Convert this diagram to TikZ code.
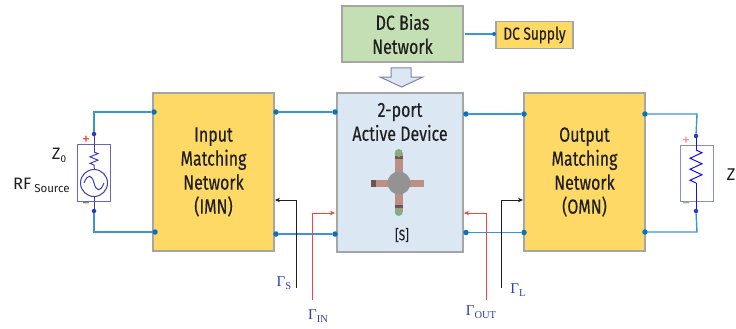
\documentclass[tikz,border=0pt]{standalone}
\usepackage{fontspec}
\setmainfont{Fira Sans}
\newfontfamily\cond[FakeStretch=0.78,FakeBold=0.25]{Fira Sans}
\newfontfamily\gfont{Liberation Serif}
\newcommand{\gam}[1]{{\gfont Γ\raisebox{-3pt}{\fontsize{10.5}{10.5}\selectfont #1}}}
\usetikzlibrary{arrows.meta,decorations.pathmorphing}
\definecolor{wire}{HTML}{3C94D6}
\definecolor{dotc}{HTML}{0B70BE}
\definecolor{ink}{HTML}{1F1F1F}
\definecolor{edge}{HTML}{A5A5A5}
\definecolor{gold}{HTML}{FFD966}
\definecolor{bluebox}{HTML}{DCE7F4}
\definecolor{greenbox}{HTML}{C5DFB4}
\definecolor{comp}{HTML}{3F3FB5}
\definecolor{gamc}{HTML}{2A3FC4}
\definecolor{arm}{HTML}{BC8F85}
\tikzset{
 block/.style={draw=edge,line width=1.3pt,minimum width=#1,inner sep=0pt,font=\cond\fontsize{20.5}{24}\selectfont,text=ink,align=center},
 dotn/.style={circle,fill=dotc,inner sep=0pt,minimum size=5.5pt},
 term/.style={circle,fill=blue!70!black!80,inner sep=0pt,minimum size=4.5pt},
 wirel/.style={draw=wire,line width=1.4pt},
 refl/.style={line width=.8pt,-{Stealth[length=5pt,width=4.5pt]}},
 gamlab/.style={text=gamc,inner sep=0pt,font=\fontsize{15}{15}\selectfont},
 ttxt/.style={text=ink,inner sep=0pt},
 compbox/.style={draw=comp!80,line width=1pt},
 zig/.style={draw=comp,line width=1pt,decorate,decoration={zigzag,segment length=6.5pt,amplitude=4pt}},
 signl/.style={inner sep=0pt,font=\fontsize{16}{16}\selectfont}
}
\begin{document}
\begin{tikzpicture}[x=1pt,y=-1pt]
\useasboundingbox[fill=white] (0,0) rectangle (736,329);
% blocks
\node[block=121pt,fill=greenbox,minimum height=56pt] (bias) at (402.5,34) {DC Bias\\Network};
\node[block=77pt,fill=gold,minimum height=27pt,font=\cond\fontsize{17.5}{20}\selectfont] (supply) at (534.5,35) {DC Supply};
\node[block=121pt,fill=gold,minimum height=158pt] (imn) at (213.5,172) {Input\\Matching\\Network\\(IMN)};
\node[block=126pt,fill=bluebox,minimum height=159pt] (dev) at (400,172.5) {};
\node[block=121pt,fill=gold,minimum height=158pt] (omn) at (584.5,172) {Output\\Matching\\Network\\(OMN)};
\node[ttxt,font=\cond\fontsize{20.5}{24}\selectfont,align=center] (devt) at (400,122) {2-port\\Active Device};
\node[ttxt,font=\cond\fontsize{15}{16}\selectfont] (sm) at (402,235) {[S]};
% block arrow
\draw[draw=comp!35!edge,fill=bluebox,line width=1pt] (391,68) -- (411,68) -- (411,77) -- (423,77) -- (401.5,87) -- (380,77) -- (391,77) -- cycle;
% transistor
\fill[arm] (395,153) rectangle (402.5,212);
\fill[arm] (371,179.5) rectangle (424,186.5);
\fill[arm!60!black] (371,179.5) rectangle (376,186.5);
\fill[arm!60!black] (395,156) rectangle (402.5,159);
\fill[arm!60!black] (395,205) rectangle (402.5,208);
\fill[green!20!gray!80] (398.7,153) circle (4pt);
\fill[green!20!gray!80] (398.7,212) circle (4pt);
\fill[gray!85] (399,183) circle (11.5pt);
% dots
\node[dotn] (i1) at (154,112) {};
\node[dotn] (i2) at (155,232) {};
\node[dotn] (i3) at (276,112) {};
\node[dotn] (i4) at (276,234) {};
\node[dotn] (d1) at (335,112) {};
\node[dotn] (d2) at (335,234) {};
\node[dotn] (d3) at (466,114) {};
\node[dotn] (d4) at (466,232.5) {};
\node[dotn] (o1) at (524,114) {};
\node[dotn] (o2) at (524,232.5) {};
\node[dotn] (o3) at (645,114) {};
\node[dotn] (o4) at (645,232) {};
\node[dotn,minimum size=4pt] (s0) at (494,34) {};
\draw[wirel] (bias.east) ++(1,0) -- (s0);
\draw[wirel] (i3) -- (d1);
\draw[wirel] (i4) -- (d2);
\draw[wirel] (d3) -- (o1);
\draw[wirel] (d4) -- (o2);
% source
\node[term] (st) at (94,134) {};
\node[term] (sb) at (94,211) {};
\draw[wirel] (st) -- (94,112) -- (i1);
\draw[wirel] (sb) -- (94,232) -- (i2);
\draw[compbox] (77.5,144) rectangle (110,201);
\node[circle,draw=comp,line width=1pt,minimum size=27pt,inner sep=0pt] (osc) at (94,183) {};
\draw[comp,line width=1pt] (84,183) .. controls (88,173) and (92,175) .. (94,183) .. controls (96,191) and (100,193) .. (104,183);
\coordinate (rtop) at (94,152);
\coordinate (rbot) at (94,168);
\draw[comp,line width=1pt] (st) -- (rtop);
\draw[zig] (rtop) -- (rbot);
\draw[comp,line width=1pt] (rbot) -- (osc.north);
\draw[comp,line width=1pt] (osc.south) -- (sb);
\node[signl,text=red!75] (sp) at (86,140.5) {+};
\node[signl,text=gray] (sm2) at (86,206) {\textminus};
% load
\node[term] (lt) at (696,136) {};
\node[term] (lb) at (696,211) {};
\draw[wirel] (lt) -- (697,114) -- (o3);
\draw[wirel] (lb) -- (697,232) -- (o4);
\draw[compbox,draw=comp!60] (680.5,145) rectangle (713,201);
\coordinate (ltop) at (696,150);
\coordinate (lbot) at (696,183);
\draw[blue!70!comp,line width=1pt] (lt) -- (ltop);
\draw[zig,draw=blue!70!comp,decoration={zigzag,segment length=11pt,amplitude=6pt}] (ltop) -- (lbot);
\draw[blue!70!comp,line width=1pt] (lbot) -- (lb);
\node[signl,text=red!45] (lp) at (686,141) {+};
\node[signl,text=gray!70] (lm) at (686,206) {\textminus};
% text
\node[ttxt,font=\fontsize{16.5}{16}\selectfont] (z0) at (59,155) {Z\raisebox{-3pt}{\fontsize{10}{10}\selectfont 0}};
\node[ttxt,anchor=west,font=\fontsize{16.5}{16}\selectfont] (rf) at (13,185) {RF\hspace{3pt}\raisebox{-3pt}{\fontsize{11.5}{11}\selectfont Source}};
\node[ttxt,font=\fontsize{17}{17}\selectfont] (zl) at (731,175) {Z};
% reflection lines
\node[inner sep=0pt] (gsc) at (296,288) {};
\node[inner sep=0pt] (gin) at (312,300) {};
\node[inner sep=0pt] (gout) at (486,300) {};
\node[inner sep=0pt] (glc) at (501,288) {};
\draw[refl,ink] (gsc.center) -- (296,200) -- (275,200);
\draw[refl,ink] (glc.center) -- (501,200) -- (523,200);
\draw[refl,red!75] (gin.center) -- (312,213) -- (335,213);
\draw[refl,red!75] (gout.center) -- (486,213) -- (464,213);
\node[gamlab] (gs) at (284,283) {\gam{S}};
\node[gamlab] (gi) at (318,316) {\gam{IN}};
\node[gamlab] (go) at (481,312) {\gam{OUT}};
\node[gamlab] (gl) at (518,290) {\gam{L}};
\end{tikzpicture}
\end{document}
